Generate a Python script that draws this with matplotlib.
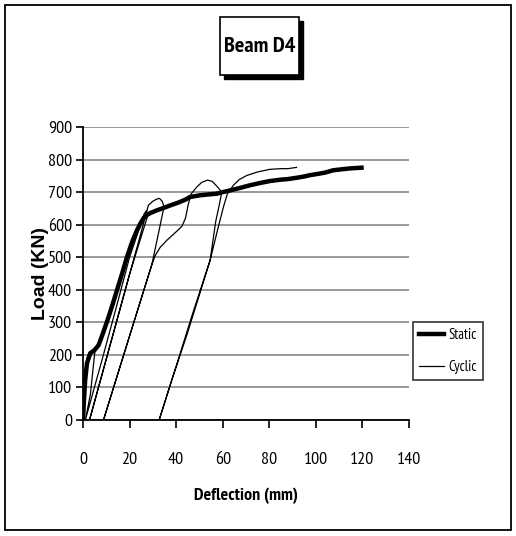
import matplotlib
matplotlib.use('Agg')
import matplotlib.pyplot as plt
from matplotlib import font_manager
from matplotlib.patches import Rectangle

# data
static_x = [0, 0.4, 0.9, 1.7, 3.1, 5.0, 6.7, 8.5, 10.3, 12.5, 14.6, 16.8, 18.9, 21.0, 23.0,
            24.6, 26.0, 27.5, 29.0, 31.7, 34.5, 37.4, 41.0, 44.0, 46.0, 50.0, 54.0, 57.4,
            60.0, 63.1, 67.0, 71.7, 76.0, 80.3, 84.6, 88.0, 91.7, 95.0, 97.4, 101.7, 104.0,
            107.4, 111.0, 115.0, 119.6]
static_y = [0, 60, 120, 174, 205, 215, 230, 265, 302, 350, 399, 450, 501, 545, 580,
            603, 620, 630, 636, 644, 651, 659, 668, 677, 685, 690, 693, 695,
            700, 705, 712, 721, 728, 734, 738, 740, 744, 748, 752, 757, 760,
            767, 770, 773, 775]

cyclic_x = [0, 0.5, 1.0, 1.7, 2.5, 4.0, 5.3, 4.5, 3.2, 1.0,
            8, 15, 20, 24.5, 26.2, 27.1, 27.8, 20, 12, 2.8,
            10, 18, 24.6, 28.1, 30.0, 31.5, 32.8, 34.0, 34.8, 29.6, 20, 8.8,
            15, 22, 27, 29.6, 31, 33.1, 36, 40.3, 42.5, 44, 45.3, 46.5, 48.9, 51, 53.5, 55.5,
            57.5, 59.6, 58.5, 57, 54.6, 45, 38, 32.7,
            40, 47, 54.6, 58, 60.3, 62, 64.6, 67, 70.3, 75, 80.3, 85, 88, 91.7]
cyclic_y = [0, 80, 150, 190, 203, 210, 222, 170, 80, 0,
            180, 365, 500, 595, 632, 642, 628, 448, 240, 0,
            187, 395, 567, 660, 672, 678, 681, 672, 655, 478, 258, 0,
            143, 304, 419, 478, 505, 530, 552, 580, 595, 620, 665, 695, 716, 730, 737, 733,
            718, 700, 660, 610, 491, 270, 120, 0,
            165, 325, 491, 590, 654, 695, 721, 738, 751, 762, 770, 772, 772, 776]

x_ticks = [0, 20, 40, 60, 80, 100, 120, 140]
y_ticks = [0, 100, 200, 300, 400, 500, 600, 700, 800, 900]

# pick an installed narrow family that has a real bold face
fonts = font_manager.fontManager.ttflist
narrow = 'Liberation Sans'
for cand in ['Arial Narrow', 'Liberation Sans Narrow', 'PT Sans Narrow', 'Roboto Condensed',
             'Barlow Semi Condensed', 'Archivo Narrow']:
    ws = {f.weight for f in fonts if f.name == cand}
    if 400 in ws and 700 in ws:
        narrow = cand
        break
plt.rcParams['font.family'] = [narrow, 'DejaVu Sans']

W, H = 516, 536
fig = plt.figure(figsize=(W / 100, H / 100), dpi=100)
ax = fig.add_axes([83 / W, 1 - 420 / H, (409 - 83) / W, (420 - 127) / H])

ax.plot(static_x, static_y, color='black', lw=3.2, solid_joinstyle='miter', label='Static')
ax.plot(cyclic_x, cyclic_y, color='black', lw=0.9, label='Cyclic')

ax.set_xlim(0, 140)
ax.set_ylim(0, 900)
ax.set_xticks(x_ticks)
ax.set_yticks(y_ticks)
ax.grid(axis='y', color='#999999', lw=1.4)
ax.set_axisbelow(True)
for s in ['top', 'right']:
    ax.spines[s].set_visible(False)
for s in ['left', 'bottom']:
    ax.spines[s].set_linewidth(1.3)
ax.tick_params(axis='x', direction='out', length=6, width=1.2, pad=17, labelsize=13)
ax.tick_params(axis='y', direction='out', length=5, width=1.2, pad=3, labelsize=13)

ax.set_xlabel('Deflection (mm)', fontsize=13, fontweight='bold', labelpad=14)
ax.set_ylabel('Load (KN)', fontsize=14, fontweight='bold', family='Liberation Sans', labelpad=-1)

leg = ax.legend(loc='center left', bbox_to_anchor=(413 / W, 1 - 351 / H),
                bbox_transform=fig.transFigure, frameon=True, fancybox=False,
                fontsize=10.5, handlelength=1.7, handletextpad=0.35, borderpad=0.4,
                labelspacing=1.2, borderaxespad=0)
leg.get_frame().set_edgecolor('black')
leg.get_frame().set_linewidth(1.2)

# title box with shadow
fig.patches.append(Rectangle((224 / W, 1 - 79 / H), 79 / W, 58 / H, transform=fig.transFigure,
                             facecolor='black', edgecolor='black', zorder=1))
fig.patches.append(Rectangle((220 / W, 1 - 75 / H), 79 / W, 58 / H, transform=fig.transFigure,
                             facecolor='white', edgecolor='black', lw=1.2, zorder=2))
fig.text(259.5 / W, 1 - 46 / H, 'Beam D4', ha='center', va='center', fontsize=16,
         fontweight='bold', zorder=3)

# outer border
fig.patches.append(Rectangle((5 / W, 1 - 530 / H), 506 / W, 525 / H, transform=fig.transFigure,
                             facecolor='none', edgecolor='black', lw=1.3))

fig.savefig('out.png', dpi=100)
